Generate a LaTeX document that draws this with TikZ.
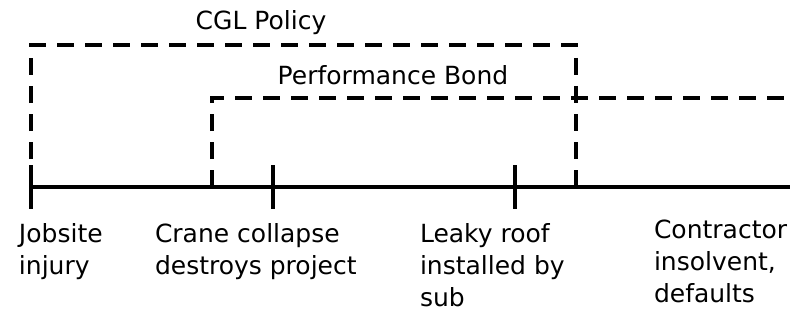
\documentclass[tikz,border=0pt]{standalone}
\usepackage{fontspec}
\setmainfont{DejaVu Sans}
\begin{document}
\begin{tikzpicture}[x=1pt,y=-1pt,line width=4pt,
    cover/.style={dash pattern=on 17pt off 11pt},
    lbl/.style={inner sep=0pt,font=\fontsize{25}{32}\selectfont},
    event/.style={lbl,anchor=north west,align=left}]
        \useasboundingbox (0,0) rectangle (790,321);
        %时间轴
            \coordinate (ta) at (31,187);
            \coordinate (tb) at (273,187);
            \coordinate (tc) at (515,187);
            \coordinate (tend) at (790,187);
            \draw (ta) -- (tend);
            \foreach \t in {ta,tb,tc} \draw (\t) ++(0,-22) -- ++(0,44);
        %保险, 保函
            \coordinate (cglend) at (576,187);
            \coordinate (bond) at (212,187);
            \draw [cover] (ta) -- ++(0,-142) -| (cglend);
            \draw [cover] (bond) |- (790,98);
            \node [lbl] (cgl) at (261,23) {CGL Policy};
            \node [lbl] (perf) at (393,75) {Performance Bond};
        %事件
            \node [event] (injury) at (17,222) {Jobsite\\injury};
            \node [event] (crane) at (153,222) {Crane collapse\\destroys project};
            \node [event] (roof) at (418,222) {Leaky roof\\installed by\\sub};
            \node [event] (insolv) at (652,218) {Contractor\\insolvent,\\defaults};
\end{tikzpicture}
\end{document}
